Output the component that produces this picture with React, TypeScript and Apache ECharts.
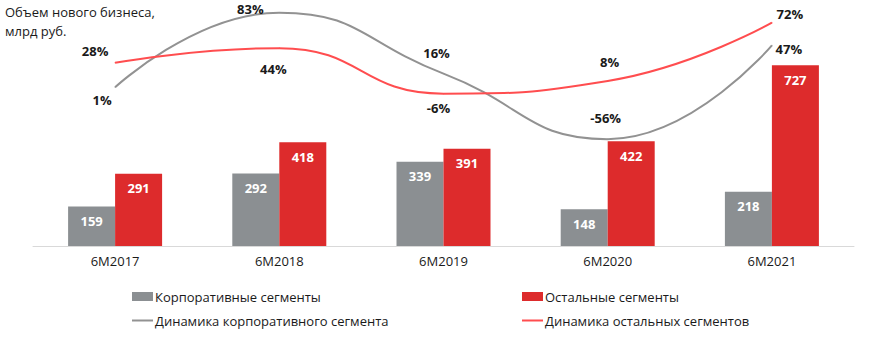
import React, { useEffect, useRef } from 'react';
import * as echarts from 'echarts';

const categories = ['6M2017', '6M2018', '6M2019', '6M2020', '6M2021'];
const corporateVolume = [159, 292, 339, 148, 218];
const otherVolume = [291, 418, 391, 422, 727];
const corporateGrowth = [1, 83, 16, -56, 47];
const otherGrowth = [28, 44, -6, 8, 72];

const nameCorpBar = 'Корпоративные сегменты';
const nameOtherBar = 'Остальные сегменты';
const nameCorpLine = 'Динамика корпоративного сегмента';
const nameOtherLine = 'Динамика остальных сегментов';
const titleText = 'Объем нового бизнеса,\nмлрд руб.';

// label placement (style, not data)
const corpLabelOffsets = [[-13, 13], [-29, -4], [-7, -21], [-2, -21], [17, 4]];
const otherLabelOffsets = [[-20, -12], [-6, 21], [-5, 14], [2, -19], [18, -9]];

const FONT = '"Open Sans", sans-serif';
const GREY_BAR = '#8b8f92';
const RED_BAR = '#dd2b2c';
const GREY_LINE = '#929292';
const RED_LINE = '#ff4d4f';
const LINE_ICON = 'path://M0,0H21V2H0Z';

export default function App() {
  const ref = useRef<HTMLDivElement>(null);
  useEffect(() => {
    if (!ref.current) return;
    const chart = echarts.init(ref.current, undefined, { renderer: 'svg' });
    const lineData = (vals: number[], offs: number[][]) =>
      vals.map((v, i) => ({
        value: v,
        label: { offset: offs[i] },
      }));
    const legendText = { color: '#1a1a1a', fontSize: 13, fontFamily: FONT, padding: [0, 0, 0, -3] };
    chart.setOption({
      animation: false,
      textStyle: { fontFamily: FONT },
      graphic: [
        {
          type: 'text',
          left: 5,
          top: 2,
          style: {
            text: titleText,
            font: `13px ${FONT}`,
            fill: '#1a1a1a',
            lineHeight: 19,
          },
        },
      ],
      grid: { left: 33, right: 20, top: 5, bottom: 94, containLabel: false },
      xAxis: {
        type: 'category',
        data: categories,
        axisLine: { lineStyle: { color: '#d9d9d9', width: 1 } },
        axisTick: { show: false },
        axisLabel: { color: '#1a1a1a', fontSize: 13, margin: 8, fontFamily: FONT },
      },
      yAxis: [
        { type: 'value', min: 0, max: 970, show: false, splitLine: { show: false } },
        { type: 'value', min: -173.4, max: 91.4, show: false, splitLine: { show: false } },
      ],
      legend: [
        {
          left: 132,
          top: 290,
          padding: 0,
          orient: 'vertical',
          itemWidth: 21,
          itemHeight: 9,
          itemGap: 11,
          textStyle: legendText,
          data: [
            { name: nameCorpBar, icon: 'rect' },
            { name: nameCorpLine, icon: LINE_ICON },
          ],
        },
        {
          left: 522,
          top: 290,
          padding: 0,
          orient: 'vertical',
          itemWidth: 21,
          itemHeight: 9,
          itemGap: 11,
          textStyle: legendText,
          data: [
            { name: nameOtherBar, icon: 'rect' },
            { name: nameOtherLine, icon: LINE_ICON },
          ],
        },
      ],
      series: [
        {
          name: nameCorpBar,
          type: 'bar',
          data: corporateVolume,
          barWidth: 47,
          barGap: '0%',
          itemStyle: { color: GREY_BAR },
          label: {
            show: true,
            position: 'insideTop',
            distance: 8,
            color: '#fff',
            fontWeight: 'bold',
            fontSize: 13,
            fontFamily: FONT,
          },
        },
        {
          name: nameOtherBar,
          type: 'bar',
          data: otherVolume,
          barWidth: 47,
          barGap: '0%',
          itemStyle: { color: RED_BAR },
          label: {
            show: true,
            position: 'insideTop',
            distance: 8,
            color: '#fff',
            fontWeight: 'bold',
            fontSize: 13,
            fontFamily: FONT,
          },
        },
        {
          name: nameCorpLine,
          type: 'line',
          yAxisIndex: 1,
          smooth: true,
          clip: false,
          symbol: 'circle',
          symbolSize: 1,
          data: lineData(corporateGrowth, corpLabelOffsets),
          itemStyle: { color: GREY_LINE },
          lineStyle: { color: GREY_LINE, width: 2 },
          label: {
            show: true,
            position: 'inside',
            formatter: '{c}%',
            color: '#1a1a1a',
            fontWeight: 'bold',
            fontSize: 13,
            fontFamily: FONT,
          },
          z: 5,
        },
        {
          name: nameOtherLine,
          type: 'line',
          yAxisIndex: 1,
          smooth: true,
          clip: false,
          symbol: 'circle',
          symbolSize: 1,
          data: lineData(otherGrowth, otherLabelOffsets),
          itemStyle: { color: RED_LINE },
          lineStyle: { color: RED_LINE, width: 2 },
          label: {
            show: true,
            position: 'inside',
            formatter: '{c}%',
            color: '#1a1a1a',
            fontWeight: 'bold',
            fontSize: 13,
            fontFamily: FONT,
          },
          z: 5,
        },
      ],
    });
    return () => chart.dispose();
  }, []);
  return (
    <div
      ref={ref}
      style={{ position: 'fixed', left: 0, top: 0, width: 874, height: 340, background: '#fff' }}
    />
  );
}
